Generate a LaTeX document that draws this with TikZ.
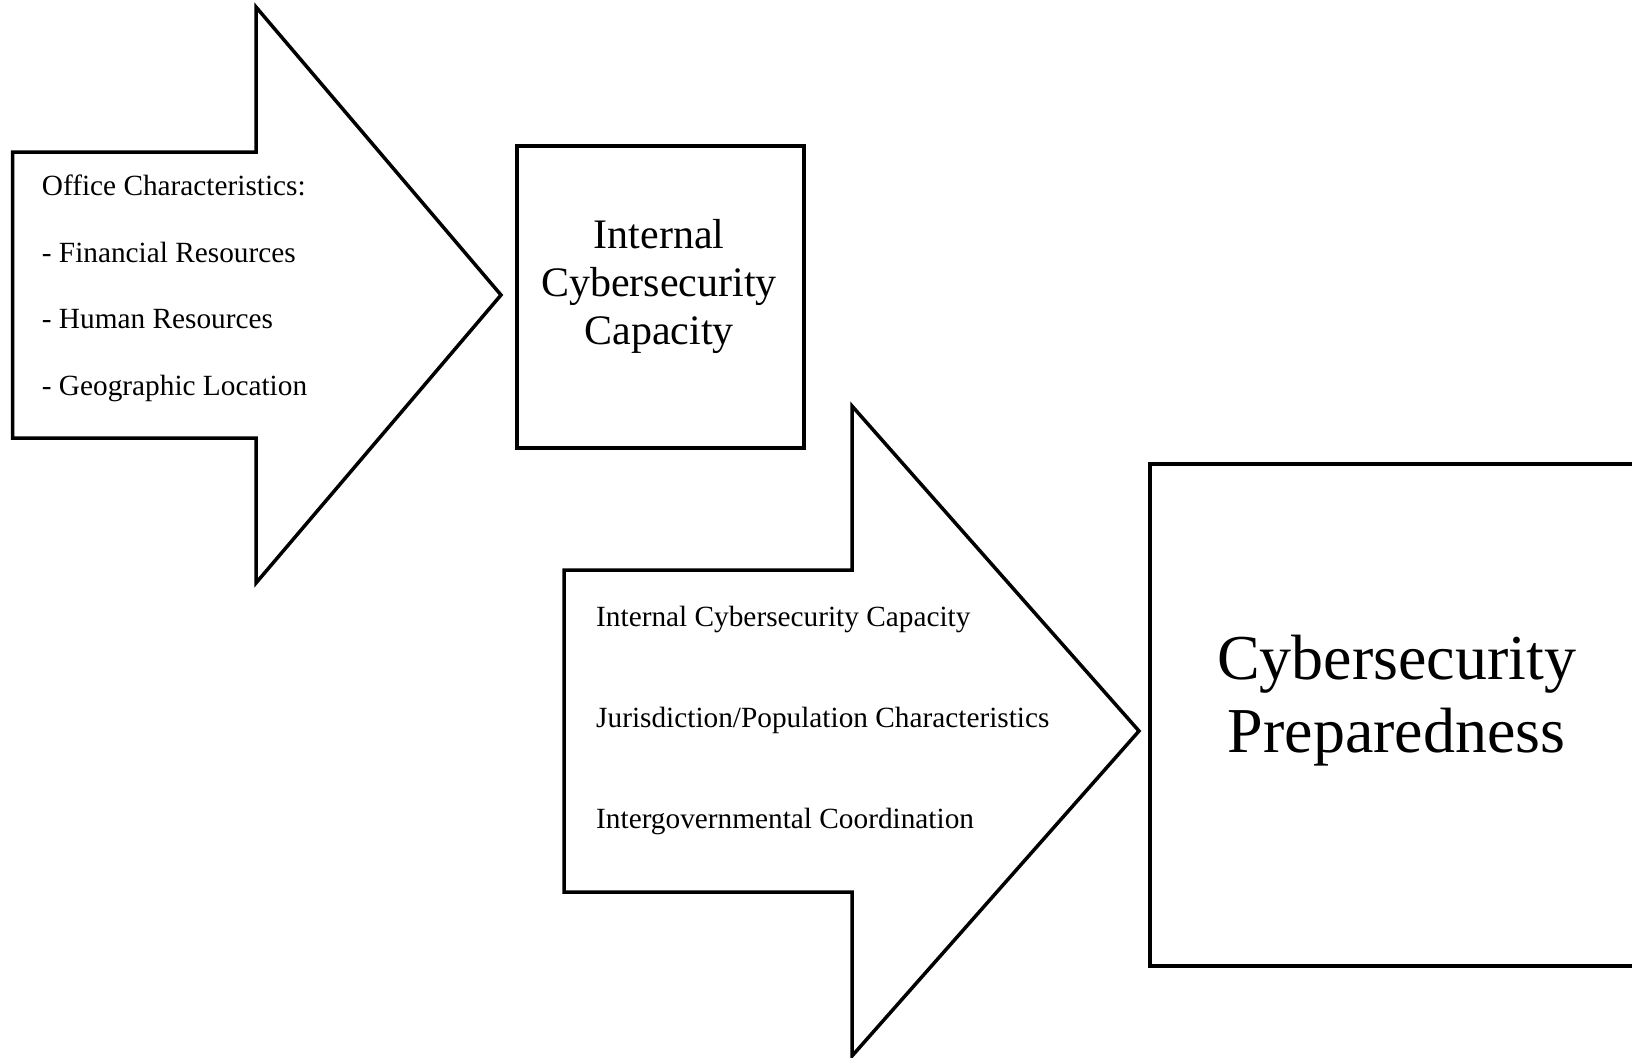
\documentclass[tikz,border=0pt]{standalone}
\usepackage{fontspec}
\setmainfont{Liberation Serif}
\begin{document}
\begin{tikzpicture}[x=1pt,y=-1pt,
  outline/.style={draw=black, line width=3.5pt, line join=miter, fill=white},
  boxnode/.style={draw=black, line width=3.5pt, fill=white, inner sep=0pt, minimum width=#1},
  smalltxt/.style={anchor=base west, inner sep=0pt, font=\fontsize{29.3}{33.7}\selectfont},
  midtxt/.style={anchor=base, inner sep=0pt, font=\fontsize{42}{48.3}\selectfont},
  bigtxt/.style={anchor=base, inner sep=0pt, font=\fontsize{64}{73.6}\selectfont}]
\useasboundingbox (0,0) rectangle (1632,1057);
\clip (0,0) rectangle (1632,1057);
\fill[white] (0,0) rectangle (1632,1057);
% arrow 1
\draw[outline] (12.5,152) -- (256,152) -- (256,7) -- (501,295) -- (256,583) -- (256,438) -- (12.5,438) -- cycle;
\node[smalltxt] (oc) at (41.7,195) {Office Characteristics:};
\node[smalltxt] (fr) at (41.7,262) {- Financial Resources};
\node[smalltxt] (hr) at (41.7,328.8) {- Human Resources};
\node[smalltxt] (gl) at (41.7,395.6) {- Geographic Location};
% box 1
\node[boxnode=287pt, minimum height=302pt] (icc) at (660.5,297) {};
\node[midtxt] (icc1) at (659,248) {Internal};
\node[midtxt] (icc2) at (659,296) {Cybersecurity};
\node[midtxt] (icc3) at (659,344) {Capacity};
% arrow 2
\draw[outline] (564,570) -- (852,570) -- (852,406) -- (1139,731) -- (852,1056) -- (852,892) -- (564,892) -- cycle;
\node[smalltxt] (a1) at (596,626) {Internal Cybersecurity Capacity};
\node[smalltxt] (a2) at (596,727) {Jurisdiction/Population Characteristics};
\node[smalltxt] (a3) at (596,828) {Intergovernmental Coordination};
% box 2
\node[boxnode=493pt, minimum height=502pt] (cp) at (1396.5,715) {};
\node[bigtxt] (cp1) at (1396.5,679) {Cybersecurity};
\node[bigtxt] (cp2) at (1396.5,752) {Preparedness};
\end{tikzpicture}
\end{document}
